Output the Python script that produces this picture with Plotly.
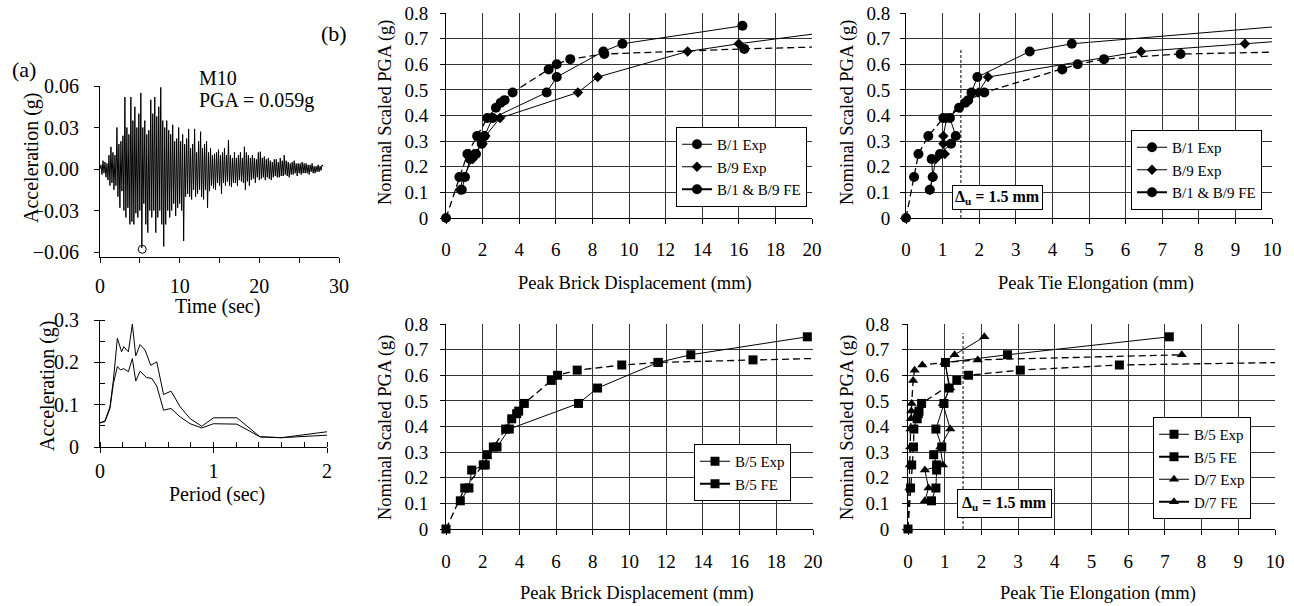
import plotly.graph_objects as go

W, H = 1294, 606
FONT = "Liberation Serif"

# ---------------- (a) ground motion M10 ----------------
DT = 0.125  # s, sampling step of the record as plotted
ACC = [
    0.000, 0.003, -0.004, 0.006, -0.003, 0.005, -0.006, 0.004,
    -0.008, 0.010, -0.012, 0.016, -0.010, 0.012, -0.015, 0.010,
    -0.012, 0.030, -0.020, 0.018, -0.028, 0.020, -0.016, 0.024,
    -0.030, 0.052, -0.035, 0.030, -0.028, 0.025, -0.040, 0.052,
    -0.038, 0.035, -0.040, 0.045, -0.032, 0.030, -0.035, 0.040,
    -0.030, 0.055, -0.057, 0.030, -0.025, 0.035, -0.040, 0.025,
    -0.046, 0.028, -0.030, 0.050, -0.035, 0.040, -0.030, 0.052,
    -0.046, 0.038, -0.035, 0.045, -0.030, 0.059, -0.040, 0.035,
    -0.056, 0.030, -0.040, 0.035, -0.030, 0.028, -0.035, 0.025,
    -0.030, 0.032, -0.025, 0.020, -0.034, 0.022, -0.028, 0.030,
    -0.025, 0.020, -0.030, 0.025, -0.052, 0.018, -0.020, 0.022,
    -0.018, 0.029, -0.020, 0.015, -0.022, 0.018, -0.015, 0.029,
    -0.020, 0.012, -0.018, 0.020, -0.015, 0.027, -0.020, 0.015,
    -0.022, 0.018, -0.015, 0.020, -0.028, 0.012, -0.016, 0.015,
    -0.012, 0.010, -0.014, 0.011, -0.015, 0.012, -0.010, 0.014,
    -0.012, 0.010, -0.018, 0.012, -0.010, 0.015, -0.012, 0.010,
    -0.009, 0.021, -0.012, 0.010, -0.013, 0.008, -0.010, 0.012,
    -0.010, 0.008, -0.012, 0.010, -0.008, 0.012, -0.009, 0.008,
    -0.010, 0.016, -0.015, 0.012, -0.009, 0.010, -0.012, 0.008,
    -0.008, 0.010, -0.007, 0.008, -0.010, 0.007, -0.006, 0.012,
    -0.008, 0.0125, -0.007, 0.008, -0.006, 0.009, -0.008, 0.007,
    -0.006, 0.008, -0.007, 0.006, -0.008, 0.005, -0.006, 0.007,
    -0.005, 0.007, -0.006, 0.005, -0.006, 0.008, -0.005, 0.006,
    -0.005, 0.010, -0.004, 0.006, -0.005, 0.005, -0.006, 0.004,
    -0.004, 0.005, -0.004, 0.006, -0.003, 0.004, -0.005, 0.004,
    -0.003, 0.004, -0.004, 0.005, -0.003, 0.004, -0.003, 0.004,
    -0.003, 0.003, -0.004, 0.003, -0.002, 0.004, -0.003, 0.002,
    -0.003, 0.002, -0.002, 0.003, -0.002, 0.002, -0.001, 0.003,
    0.002,
]
TIME = [i * DT for i in range(len(ACC))]
PGA_TIME = [5.3]
PGA_ACC = [-0.058]

# response spectra
PERIOD_UP = [0, 0.044, 0.088, 0.118, 0.153, 0.19, 0.21, 0.25, 0.285, 0.315, 0.353, 0.397,
             0.447, 0.5, 0.56, 0.626, 0.706, 0.794, 0.897, 1.0, 1.206, 1.41, 1.6, 2.0]
SA_UP = [0.057, 0.062, 0.095, 0.158, 0.257, 0.225, 0.237, 0.225, 0.29, 0.215, 0.242, 0.229,
         0.193, 0.201, 0.124, 0.132, 0.095, 0.067, 0.049, 0.069, 0.069, 0.024, 0.022, 0.036]
PERIOD_LO = [0, 0.044, 0.088, 0.118, 0.153, 0.18, 0.21, 0.25, 0.285, 0.315, 0.353, 0.41,
             0.456, 0.5, 0.56, 0.626, 0.706, 0.794, 0.897, 1.0, 1.206, 1.41, 1.6, 2.0]
SA_LO = [0.057, 0.060, 0.091, 0.150, 0.190, 0.182, 0.185, 0.178, 0.209, 0.156, 0.179, 0.164,
         0.162, 0.144, 0.087, 0.091, 0.071, 0.055, 0.045, 0.055, 0.054, 0.024, 0.022, 0.028]

# ---------------- (b) wall response ----------------
EXP_PGA = [0.11, 0.16, 0.23, 0.25, 0.29, 0.32, 0.39, 0.49, 0.55, 0.65, 0.68, 0.75]
FE_PGA = [0, 0.16, 0.25, 0.32, 0.39, 0.43, 0.45, 0.46, 0.49, 0.58, 0.60, 0.62, 0.64, 0.66, 0.68]

# peak brick displacement (mm)
B1_EXP_DISP = [0.86, 1.04, 1.31, 1.64, 1.95, 2.10, 2.55, 5.50, 6.05, 8.60, 9.64, 16.2]
B9_EXP_DISP = [0.75, 0.95, 1.46, 1.50, 2.00, 2.15, 2.95, 7.21, 8.29, 13.2, 16.0, 23.5]
B19_FE_DISP = [0, 0.73, 1.17, 1.70, 2.26, 2.73, 2.99, 3.20, 3.64, 5.61, 6.05, 6.79, 8.65, 16.3, 27.0]

# peak tie elongation (mm)
B1_EXP_TIE = [0.65, 0.73, 0.70, 0.93, 1.23, 1.36, 1.20, 1.79, 1.95, 3.38, 4.53, 10.4]
B9_EXP_TIE = [0.65, 0.73, 0.81, 1.06, 1.02, 1.02, 1.11, 1.97, 2.24, 6.42, 9.26, 16.0]
B19_FE_TIE = [0, 0.22, 0.34, 0.61, 1.02, 1.45, 1.62, 1.70, 2.14, 4.27, 4.69, 5.41, 7.50, 14.6, 22.0]

# B/5 wall
B5_FE_PGA = [0, 0.16, 0.25, 0.32, 0.39, 0.43, 0.45, 0.46, 0.49, 0.58, 0.60, 0.62, 0.64, 0.65, 0.66, 0.68]
B5_EXP_DISP = [0.78, 1.25, 1.40, 2.14, 2.25, 2.78, 3.45, 7.22, 8.26, 11.56, 13.34, 19.69]
B5_FE_DISP = [0, 1.02, 2.03, 2.58, 3.25, 3.58, 3.85, 3.96, 4.27, 5.74, 6.08, 7.15, 9.58, 11.56, 16.73, 28.0]
B5_EXP_TIE = [0.64, 0.76, 0.78, 0.78, 0.70, 0.92, 0.76, 0.98, 1.12, 1.02, 2.71, 7.12]
B5_FE_TIE = [0, 0.07, 0.10, 0.15, 0.16, 0.25, 0.28, 0.30, 0.37, 1.33, 1.65, 3.06, 5.76, 10.3, 14.0, 20.0]

# D/7 wall
D7_EXP_PGA = [0.11, 0.16, 0.23, 0.25, 0.32, 0.39, 0.49, 0.55, 0.65, 0.68, 0.75]
D7_EXP_TIE = [0.46, 0.56, 0.46, 0.95, 0.88, 1.15, 0.95, 1.15, 1.00, 1.27, 2.08]
D7_FE_PGA = [0, 0.16, 0.25, 0.32, 0.39, 0.43, 0.46, 0.49, 0.58, 0.62, 0.64, 0.65, 0.66, 0.68]
D7_FE_TIE = [0, 0.04, 0.05, 0.06, 0.07, 0.08, 0.09, 0.10, 0.14, 0.18, 0.39, 1.00, 1.90, 7.46]

DELTA_U = 1.5
DELTA_TOP_1 = 0.66
DELTA_TOP_2 = 0.765

# ---------------- helpers ----------------
def px(p):
    return p / W


def py(p):
    return 1 - p / H


def msize(xs, xmax, s):
    return [s if x <= xmax + 1e-9 else 0 for x in xs]


fig = go.Figure()
BLACK = "black"
DASH = "7px,4px"


def add_series(xs, ys, xa, ya, xmax, symbol, size, dash=None, width=1.0):
    fig.add_trace(go.Scatter(
        x=xs, y=ys, xaxis=xa, yaxis=ya, mode="lines+markers",
        line=dict(color=BLACK, width=width, dash=dash or "solid"),
        marker=dict(symbol=symbol, color=BLACK, size=msize(xs, xmax, size), opacity=1,
                    line=dict(width=0)),
        cliponaxis=False, showlegend=False, hoverinfo="skip"))


def add_legend_entry(name, symbol, size, width, legend):
    fig.add_trace(go.Scatter(
        x=[None], y=[None], mode="lines+markers", name=name, legend=legend,
        line=dict(color=BLACK, width=width),
        marker=dict(symbol=symbol, color=BLACK, size=size, opacity=1),
        showlegend=True, xaxis="x3", yaxis="y3"))


# (a) time history
fig.add_trace(go.Scatter(x=TIME, y=ACC, xaxis="x", yaxis="y", mode="lines",
                         line=dict(color=BLACK, width=1), showlegend=False, hoverinfo="skip"))
fig.add_trace(go.Scatter(x=PGA_TIME, y=PGA_ACC, xaxis="x", yaxis="y", mode="markers",
                         marker=dict(symbol="circle-open", color=BLACK, size=8, line=dict(width=1)),
                         showlegend=False, cliponaxis=False, hoverinfo="skip"))
# spectra
for xs, ys in ((PERIOD_UP, SA_UP), (PERIOD_LO, SA_LO)):
    fig.add_trace(go.Scatter(x=xs, y=ys, xaxis="x2", yaxis="y2", mode="lines",
                             line=dict(color=BLACK, width=1), showlegend=False, hoverinfo="skip"))

# top middle
add_series(B1_EXP_DISP, EXP_PGA, "x3", "y3", 20, "circle", 10)
add_series(B9_EXP_DISP, EXP_PGA, "x3", "y3", 20, "diamond", 8)
add_series(B19_FE_DISP, FE_PGA, "x3", "y3", 20, "circle", 10, dash=DASH, width=1.3)
# top right
add_series(B1_EXP_TIE, EXP_PGA, "x4", "y4", 10, "circle", 10)
add_series(B9_EXP_TIE, EXP_PGA, "x4", "y4", 10, "diamond", 8)
add_series(B19_FE_TIE, FE_PGA, "x4", "y4", 10, "circle", 10, dash=DASH, width=1.3)
# bottom middle
add_series(B5_EXP_DISP, EXP_PGA, "x5", "y5", 20, "square", 9)
add_series(B5_FE_DISP, B5_FE_PGA, "x5", "y5", 20, "square", 9, dash=DASH, width=1.3)
# bottom right
add_series(B5_EXP_TIE, EXP_PGA, "x6", "y6", 10, "square", 9)
add_series(B5_FE_TIE, B5_FE_PGA, "x6", "y6", 10, "square", 9, dash=DASH, width=1.3)
add_series(D7_EXP_TIE, D7_EXP_PGA, "x6", "y6", 10, "triangle-up", 9)
add_series(D7_FE_TIE, D7_FE_PGA, "x6", "y6", 10, "triangle-up", 9, dash=DASH, width=1.3)

# legends
add_legend_entry("B/1 Exp", "circle", 10, 1, "legend")
add_legend_entry("B/9 Exp", "diamond", 8, 1, "legend")
add_legend_entry("B/1 & B/9 FE", "circle", 10, 2, "legend")
add_legend_entry("B/1 Exp", "circle", 10, 1, "legend2")
add_legend_entry("B/9 Exp", "diamond", 8, 1, "legend2")
add_legend_entry("B/1 & B/9 FE", "circle", 10, 2, "legend2")
add_legend_entry("B/5 Exp", "square", 9, 1, "legend3")
add_legend_entry("B/5 FE", "square", 9, 2, "legend3")
add_legend_entry("B/5 Exp", "square", 9, 1, "legend4")
add_legend_entry("B/5 FE", "square", 9, 2, "legend4")
add_legend_entry("D/7 Exp", "triangle-up", 9, 1, "legend4")
add_legend_entry("D/7 FE", "triangle-up", 9, 2, "legend4")


def leg(x, y):
    return dict(x=px(x), y=py(y), xanchor="left", yanchor="top", bgcolor="white",
                bordercolor=BLACK, borderwidth=1, font=dict(family=FONT, size=15, color=BLACK),
                itemwidth=30, tracegroupgap=0, traceorder="normal")


def axis(domain, rng, dtick, anchor, fs=19, grid=True, standoff=8, fmt=None, minor=None, ticklen=5):
    d = dict(domain=domain, range=rng, dtick=dtick, tick0=0, anchor=anchor, showline=True,
             linecolor=BLACK, linewidth=1, ticks="outside", ticklen=ticklen, tickcolor=BLACK,
             showgrid=grid, gridcolor="#333", gridwidth=1, zeroline=False, automargin=False,
             tickfont=dict(family=FONT, size=fs, color=BLACK), ticklabelstandoff=standoff,
             fixedrange=True)
    if fmt:
        d["tickformat"] = fmt
    if minor:
        d["minor"] = minor
    return d


XD_A = [px(100), px(339)]
YD_A = [py(257), py(86)]
XD_S = [px(100), px(327)]
YD_S = [py(447), py(320)]
XD_TM = [px(446), px(812)]
XD_TR = [px(906), px(1272)]
YD_T = [py(218), py(13)]
XD_BM = [px(446), px(813)]
XD_BR = [px(908), px(1275)]
YD_B = [py(529), py(324)]

layout = dict(
    template="none",
    width=W, height=H, autosize=False, margin=dict(l=0, r=0, t=0, b=0, pad=0),
    paper_bgcolor="white", plot_bgcolor="white",
    font=dict(family=FONT, color=BLACK),
    xaxis=axis(XD_A, [0, 30], 10, "y", fs=20, grid=False, standoff=6,
               minor=dict(dtick=5, ticks="outside", ticklen=5, tickcolor=BLACK)),
    yaxis=axis(YD_A, [-0.0636, 0.06], 0.03, "x", fs=20, grid=False, standoff=11, fmt=".2f"),
    xaxis2=axis(XD_S, [0, 2], 1, "y2", fs=20, grid=False, standoff=1,
                minor=dict(dtick=0.2, ticks="inside", ticklen=5, tickcolor=BLACK)),
    yaxis2=axis(YD_S, [0, 0.3], 0.1, "x2", fs=20, grid=False, standoff=11,
                minor=dict(dtick=0.05, ticks="inside", ticklen=5, tickcolor=BLACK)),
    xaxis3=axis(XD_TM, [0, 20], 2, "y3", standoff=9),
    yaxis3=axis(YD_T, [0, 0.8], 0.1, "x3", standoff=8),
    xaxis4=axis(XD_TR, [0, 10], 1, "y4", standoff=9),
    yaxis4=axis(YD_T, [0, 0.8], 0.1, "x4", standoff=6),
    xaxis5=axis(XD_BM, [0, 20], 2, "y5", standoff=10),
    yaxis5=axis(YD_B, [0, 0.8], 0.1, "x5", standoff=8),
    xaxis6=axis(XD_BR, [0, 10], 1, "y6", standoff=10),
    yaxis6=axis(YD_B, [0, 0.8], 0.1, "x6", standoff=9),
    legend=leg(676, 127),
    legend2=leg(1131, 130),
    legend3=leg(694, 444),
    legend4=leg(1153, 417),
)
fig.update_layout(**layout)

# delta_u lines
fig.add_shape(type="line", xref="x4", yref="y4", x0=DELTA_U, x1=DELTA_U, y0=0, y1=DELTA_TOP_1,
              line=dict(color=BLACK, width=1, dash="3px,2px"))
fig.add_shape(type="line", xref="x6", yref="y6", x0=DELTA_U, x1=DELTA_U, y0=0, y1=DELTA_TOP_2,
              line=dict(color=BLACK, width=1, dash="3px,2px"))


def ann(text, x, y, size=19, angle=0, xanchor="center", **kw):
    fig.add_annotation(text=text, x=px(x), y=py(y), xref="paper", yref="paper", showarrow=False,
                       textangle=angle, xanchor=xanchor, yanchor="middle",
                       font=dict(family=FONT, size=size, color=BLACK), **kw)


du_text = "<b>Δ<sub>u</sub> = 1.5 mm</b>"
ann(du_text, 997, 197.5, size=16, bgcolor="white", bordercolor=BLACK, borderwidth=1, borderpad=2)
ann(du_text, 1004, 503, size=16, bgcolor="white", bordercolor=BLACK, borderwidth=1, borderpad=4)

# titles
ann("Time (sec)", 217, 306, size=20)
ann("Period (sec)", 217, 494, size=20)
ann("Acceleration (g)", 32, 158, size=20, angle=-90)
ann("Acceleration (g)", 47, 386, size=20, angle=-90)
ann("(a)", 24, 70, size=22)
ann("(b)", 334, 33, size=22)
ann("M10", 197, 78, size=20, xanchor="left")
ann("PGA = 0.059g", 197, 101, size=20, xanchor="left")

ann("Peak Brick Displacement (mm)", 635, 283, size=18.5)
ann("Nominal Scaled PGA (g)", 385, 112, size=18.5, angle=-90)
ann("Peak Tie Elongation (mm)", 1096, 283, size=18.5)
ann("Nominal Scaled PGA (g)", 847, 112, size=18.5, angle=-90)
ann("Peak Brick Displacement (mm)", 637, 593, size=18.5)
ann("Nominal Scaled PGA (g)", 385, 427, size=18.5, angle=-90)
ann("Peak Tie Elongation (mm)", 1098, 593, size=18.5)
ann("Nominal Scaled PGA (g)", 847, 427, size=18.5, angle=-90)

fig.write_html("out.html", config={"displayModeBar": False},
               post_script="document.body.style.margin='0';")
